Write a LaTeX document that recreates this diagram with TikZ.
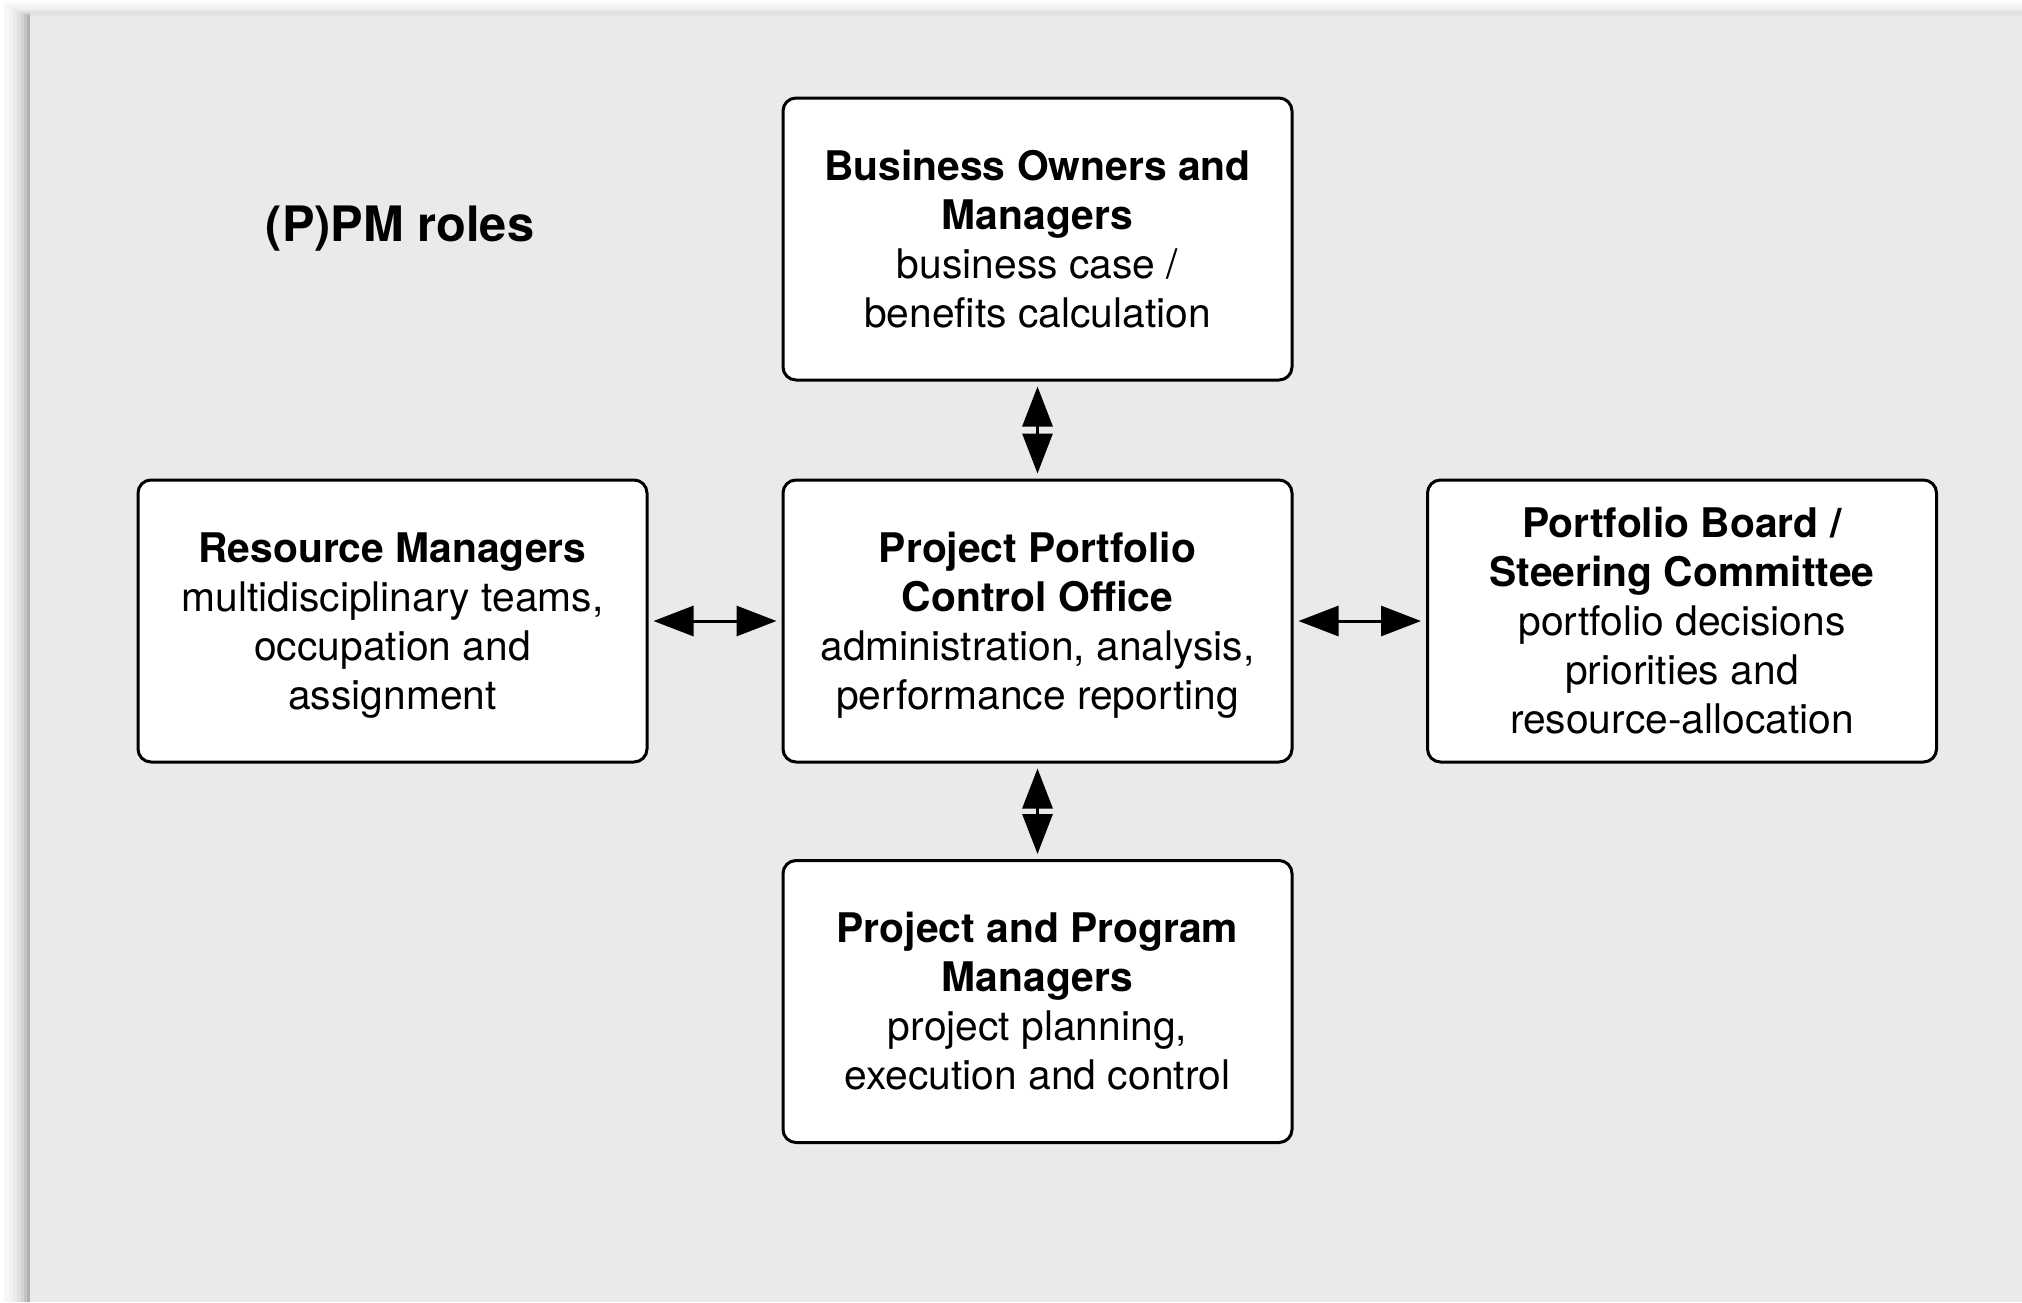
\documentclass[tikz,border=0pt]{standalone}
\usepackage{fontspec}
\setmainfont{TeX Gyre Heros}
\usetikzlibrary{arrows.meta}
\definecolor{bggray}{RGB}{234,234,234}
\begin{document}
\begin{tikzpicture}[x=0.5pt,y=-0.5pt,
  rolebox/.style={draw=black, line width=1.5pt, fill=white, rounded corners=6.5pt,
    minimum width=254.5pt, minimum height=141pt, align=center,
    font=\fontsize{20.4}{24.5}\selectfont, inner sep=0pt},
  link/.style={line width=1.5pt, {Triangle[length=20pt,width=15pt]}-{Triangle[length=20pt,width=15pt]},
    shorten >=2.5pt, shorten <=2.5pt}
]
\useasboundingbox (0,0) rectangle (2022,1302);
% page shadow
\fill[white] (0,0) rectangle (2022,1302);
\fill[black!3] (4,3) rectangle (2022,1302);
\fill[black!5] (9,6) rectangle (2022,1302);
\fill[black!8] (13,9) rectangle (2022,1302);
\fill[black!12] (17,11) rectangle (2022,1302);
\fill[black!17] (21,13) rectangle (2022,1302);
\fill[black!23] (24,14) rectangle (2022,1302);
\fill[black!31] (27,15) rectangle (2022,1302);
\fill[black!11] (30,12) rectangle (2022,1302);
\fill[bggray] (30,16) rectangle (2022,1302);

\node[font=\fontsize{24.4}{29}\selectfont\bfseries] (title) at (400,229) {(P)PM roles};

\node[rolebox] (top) at (1037.5,239) {\textbf{Business Owners and}\\\textbf{Managers}\\business case /\\benefits calculation};
\node[rolebox] (center) at (1037.5,621) {\textbf{Project Portfolio}\\\textbf{Control Office}\\administration, analysis,\\\smash{performance reporting}};
\node[rolebox] (left) at (392.5,621) {\textbf{Resource Managers}\\multidisciplinary teams,\\occupation and\\\smash{assignment}};
\node[rolebox] (right) at (1682,621) {\textbf{Portfolio Board /}\\\textbf{Steering Committee}\\portfolio decisions\\priorities and\\resource-allocation};
\node[rolebox] (bottom) at (1037.5,1001.5) {\textbf{Project and Program}\\\textbf{Managers}\\project planning,\\execution and control};

\draw[link] (top.south) -- (center.north);
\draw[link] (center.south) -- (bottom.north);
\draw[link] (left.east) -- (center.west);
\draw[link] (center.east) -- (right.west);
\end{tikzpicture}
\end{document}
